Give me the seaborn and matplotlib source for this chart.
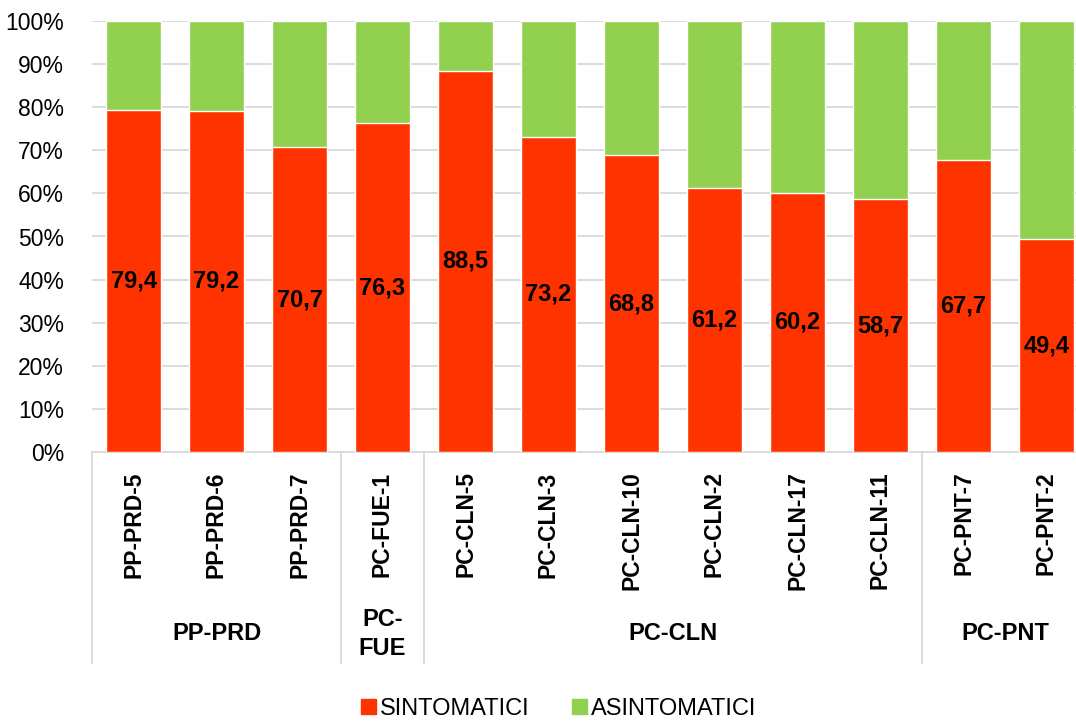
import matplotlib
matplotlib.use("Agg")
import matplotlib.pyplot as plt
import matplotlib.transforms as mtransforms
from matplotlib.patches import Patch
import pandas as pd
import seaborn as sns

# Dati
campioni = ['PP-PRD-5', 'PP-PRD-6', 'PP-PRD-7', 'PC-FUE-1', 'PC-CLN-5', 'PC-CLN-3',
            'PC-CLN-10', 'PC-CLN-2', 'PC-CLN-17', 'PC-CLN-11', 'PC-PNT-7', 'PC-PNT-2']
sintomatici = [79.4, 79.2, 70.7, 76.3, 88.5, 73.2, 68.8, 61.2, 60.2, 58.7, 67.7, 49.4]
gruppi = ['PP-PRD', 'PC-\nFUE', 'PC-CLN', 'PC-PNT']
gruppi_n = [3, 1, 6, 2]

df = pd.DataFrame({'campione': campioni, 'sintomatici': sintomatici})
df['totale'] = 100.0

rosso = '#FF3300'
verde = '#92D050'

sns.set_style('white')
plt.rcParams['font.family'] = ['Liberation Sans', 'DejaVu Sans']
plt.rcParams['text.color'] = 'black'
plt.rcParams['xtick.color'] = 'black'
plt.rcParams['ytick.color'] = 'black'

fig = plt.figure(figsize=(10.76, 7.24), dpi=100)
ax = fig.add_axes([92/1076, 1-452/724, 996/1076, 431/724])

# Grafico (barre impilate: totale verde sotto, rosso sopra)
sns.barplot(data=df, x='campione', y='totale', color=verde, width=0.66,
            saturation=1, ax=ax, zorder=2)
sns.barplot(data=df, x='campione', y='sintomatici', color=rosso, width=0.66,
            saturation=1, ax=ax, zorder=3)

# Etichette valori
for i, v in enumerate(df['sintomatici']):
    ax.text(i, v/2, f'{v:.1f}'.replace('.', ','), ha='center', va='center',
            fontsize=17, fontweight='bold', color='black', zorder=4)

ax.set_xlim(-0.5, len(campioni)-0.5)
ax.set_ylim(0, 100)
ax.set_yticks(range(0, 101, 10))
ax.set_yticklabels([f'{t}%' for t in range(0, 101, 10)], fontsize=16.5)
ax.yaxis.grid(True, color='#D9D9D9', linewidth=1.3, zorder=0)
ax.set_axisbelow(True)
ax.tick_params(axis='y', length=0, pad=20, labelcolor='black')
ax.tick_params(axis='x', length=0, pad=14, labelcolor='black')
plt.setp(ax.get_xticklabels(), rotation=90, fontsize=16.5, fontweight='bold')
ax.set_xlabel('')
ax.set_ylabel('')
for s in ['top', 'right', 'left']:
    ax.spines[s].set_visible(False)
ax.spines['bottom'].set_color('#D9D9D9')
ax.spines['bottom'].set_linewidth(1.3)

# Gruppi sotto l'asse
trans = mtransforms.blended_transform_factory(ax.transData, ax.transAxes)
confini = [0]
for n in gruppi_n:
    confini.append(confini[-1] + n)
for c in confini:
    ax.plot([c-0.5, c-0.5], [0, -211/431], transform=trans, color='#D9D9D9',
            linewidth=1.3, clip_on=False)
for g, a, b in zip(gruppi, confini[:-1], confini[1:]):
    ax.text((a+b-1)/2, -(634-452)/431, g, transform=trans, ha='center', va='center',
            fontsize=17, fontweight='bold', color='black', linespacing=1.3)

# Legenda
handles = [Patch(color=rosso, label='SINTOMATICI'), Patch(color=verde, label='ASINTOMATICI')]
fig.legend(handles=handles, loc='center', bbox_to_anchor=(559/1076, 1-709/724), ncol=2,
           frameon=False, fontsize=17, handlelength=0.6, handleheight=0.6,
           handletextpad=0.2, columnspacing=1.8, labelcolor='black')

plt.savefig('out.png', dpi=100)
